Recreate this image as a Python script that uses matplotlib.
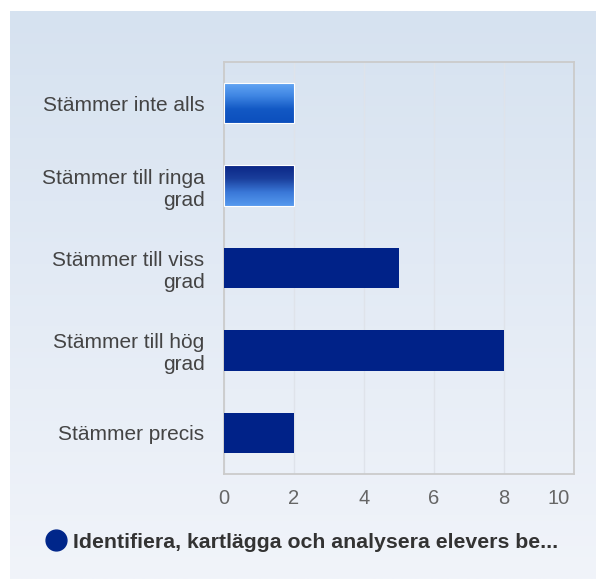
import numpy as np
import matplotlib
matplotlib.use("Agg")
import matplotlib.pyplot as plt
import matplotlib.transforms as mtransforms
from matplotlib.lines import Line2D
from matplotlib.colors import LinearSegmentedColormap

categories = ["Stämmer inte alls", "Stämmer till ringa\ngrad", "Stämmer till viss\ngrad",
              "Stämmer till hög\ngrad", "Stämmer precis"]
values = [2, 2, 5, 8, 2]
xticks = [0, 2, 4, 6, 8, 10]
series_name = "Identifiera, kartlägga och analysera elevers be..."

plt.rcParams['font.family'] = ['Liberation Sans', 'DejaVu Sans']

W, H = 596, 579
fig = plt.figure(figsize=(W / 100, H / 100), dpi=100)
fig.patch.set_facecolor('white')

# background panel gradient
bg = fig.add_axes([10 / W, 0, 1 - 10 / W, (H - 11) / H], zorder=-10)
bg.axis('off')
grad = np.linspace(0, 1, 256).reshape(-1, 1)
bg_cmap = LinearSegmentedColormap.from_list('bg', ['#d6e2f0', '#f1f4fa'])
bg.imshow(grad, aspect='auto', cmap=bg_cmap, extent=[0, 1, 0, 1], origin='upper')
bg.set_xlim(0, 1)
bg.set_ylim(0, 1)

ax = fig.add_axes([224 / W, 1 - 474 / H, (574 - 224) / W, (474 - 62) / H])
ax.set_facecolor('none')

y = np.arange(len(categories))
bars = ax.barh(y, values, height=0.49, color='#002288', zorder=3)
ax.set_xticks(xticks)
ax.set_xticklabels([str(t) for t in xticks])
ax.set_yticks(y)
ax.set_yticklabels(categories, fontsize=15, color='#444444')
ax.tick_params(axis='y', length=0, pad=14)
ax.tick_params(axis='x', length=0, pad=11, labelsize=14.5, labelcolor='#666666')
ax.grid(axis='x', color='#dfe3ea', linewidth=1, zorder=0)
for s in ax.spines.values():
    s.set_color('#cbcbcb')
    s.set_linewidth(1.3)

# last x tick label kept inside the plot edge
last = ax.get_xticklabels()[-1]
last.set_horizontalalignment('right')
last.set_transform(last.get_transform() + mtransforms.ScaledTranslation(-3 / 72, 0, fig.dpi_scale_trans))

# gradient fills for the first two bars
g1 = LinearSegmentedColormap.from_list('g1', ['#66a8f5', '#3f86e3', '#1258c4', '#0c4fbd'])
g2 = LinearSegmentedColormap.from_list('g2', ['#0a2585', '#1a3f9c', '#3a78d8', '#5599ee'])
for bar, cm in zip([bars[0], bars[1]], [g1, g2]):
    bar.set_facecolor('none')
    x0, y0 = bar.get_x(), bar.get_y()
    w, h = bar.get_width(), bar.get_height()
    im = ax.imshow(grad, aspect='auto', cmap=cm, extent=[x0, x0 + w, y0 + h, y0],
                   origin='upper', zorder=3)
    im.set_clip_path(bar)
    bar.set_edgecolor('white')
    bar.set_linewidth(0.8)
    bar.set_zorder(4)
ax.set_xlim(0, 10)
ax.set_ylim(len(categories) - 0.5, -0.5)

handle = Line2D([], [], marker='o', linestyle='none', markersize=15,
                markerfacecolor='#00268a', markeredgecolor='#00268a')
fig.legend([handle], [series_name], loc='center left',
           bbox_to_anchor=(35 / W, 1 - 542 / H), frameon=False,
           handletextpad=0.2, borderaxespad=0, handlelength=1.2,
           prop={'weight': 'bold', 'size': 15.3}, labelcolor='#333333')

fig.savefig('out.png', dpi=100, facecolor=fig.get_facecolor())
